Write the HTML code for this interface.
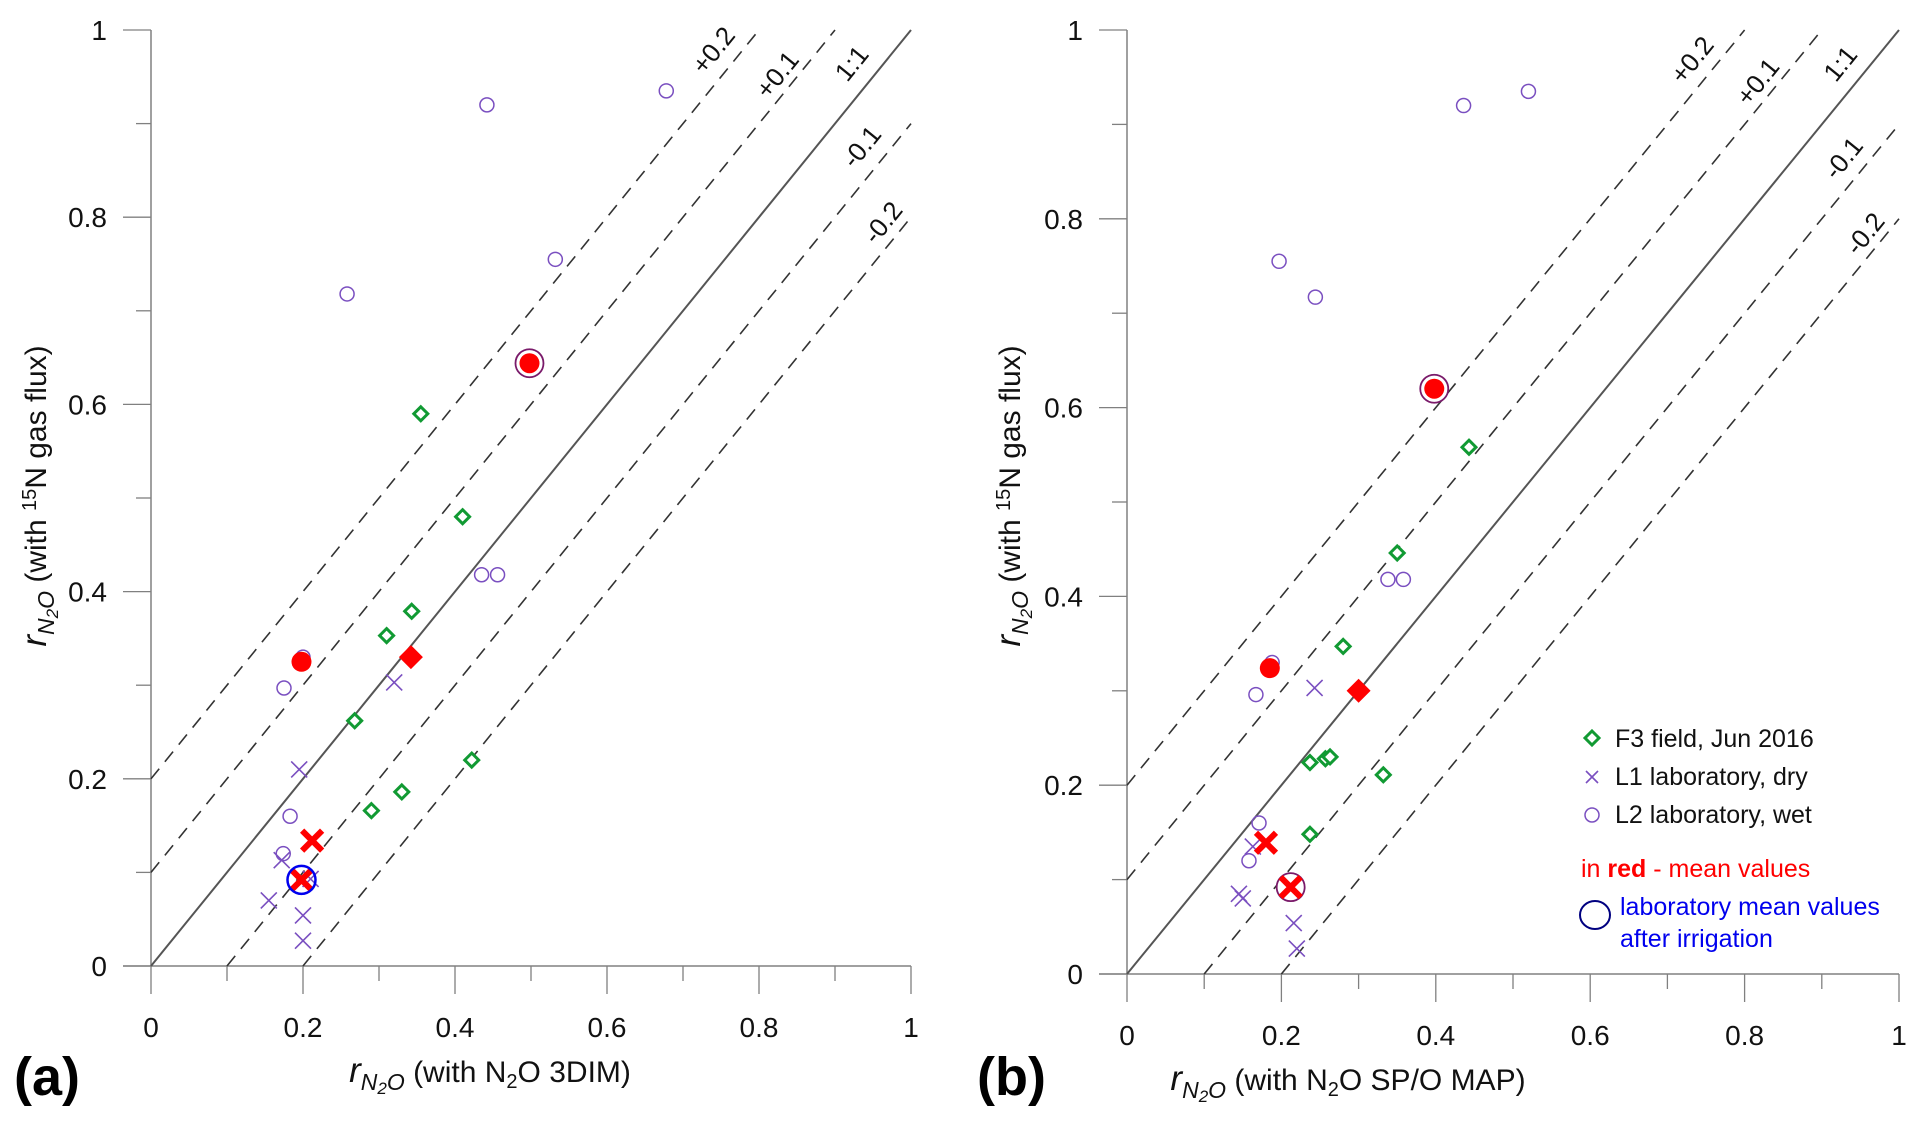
<!DOCTYPE html>
<html><head><meta charset="utf-8">
<style>
html,body{margin:0;padding:0;background:#fff;}
svg{display:block;font-family:"Liberation Sans",sans-serif;}
</style></head>
<body>
<svg id="fig" width="1922" height="1128" viewBox="0 0 1922 1128"></svg>
<script>
// Panel (a) data
const aDiamX=[0.355,0.41,0.31,0.343,0.268,0.29,0.33,0.422];
const aDiamY=[0.59,0.48,0.353,0.379,0.262,0.166,0.186,0.22];
const aCrossX=[0.195,0.32,0.172,0.155,0.2,0.2,0.21];
const aCrossY=[0.21,0.303,0.113,0.07,0.054,0.027,0.093];
const aCircX=[0.442,0.678,0.258,0.532,0.435,0.456,0.2,0.175,0.183,0.174];
const aCircY=[0.92,0.935,0.718,0.755,0.418,0.418,0.33,0.297,0.16,0.12];
const aMeanCircX=[0.198,0.498];
const aMeanCircY=[0.325,0.644];
const aMeanDiamX=[0.342];
const aMeanDiamY=[0.33];
const aMeanCrossX=[0.212,0.198];
const aMeanCrossY=[0.134,0.092];
const aRingX=[0.498];
const aRingY=[0.644];
const aBlueX=[0.198];
const aBlueY=[0.092];
// Panel (b) data
const bDiamX=[0.443,0.35,0.28,0.237,0.257,0.263,0.332,0.237];
const bDiamY=[0.558,0.446,0.347,0.224,0.228,0.23,0.211,0.148];
const bCrossX=[0.243,0.163,0.145,0.15,0.216,0.22];
const bCrossY=[0.303,0.135,0.085,0.08,0.054,0.027];
const bCircX=[0.436,0.52,0.197,0.244,0.338,0.358,0.188,0.167,0.171,0.158];
const bCircY=[0.92,0.935,0.755,0.717,0.418,0.418,0.33,0.296,0.16,0.12];
const bMeanCircX=[0.185,0.398];
const bMeanCircY=[0.324,0.62];
const bMeanDiamX=[0.3];
const bMeanDiamY=[0.3];
const bMeanCrossX=[0.18,0.212];
const bMeanCrossY=[0.139,0.092];
const bRingX=[0.398,0.212];
const bRingY=[0.62,0.092];
const tickLabels=["0","0.2","0.4","0.6","0.8","1"];
const offsets=[0.2,0.1,0,-0.1,-0.2];
const offLabels=["+0.2","+0.1","1:1","-0.1","-0.2"];

const NS="http://www.w3.org/2000/svg";
const svg=document.getElementById('fig');
function mk(tag,attrs,parent){const e=document.createElementNS(NS,tag);for(const k in attrs)e.setAttribute(k,attrs[k]);(parent||svg).appendChild(e);return e;}

function panel(P){
  const g=mk('g',{});
  
  
  const sx=v=>P.x0+(P.x1-P.x0)*v, sy=v=>P.y0+(P.y1-P.y0)*v;
  const ax='#808080';
  const yl=mk('line',{x1:sx(0),y1:sy(0),x2:sx(0),y2:sy(1),stroke:ax,'stroke-width':1.5},g);
  
  const xl=mk('line',{x1:sx(0)-28,y1:sy(0),x2:sx(1),y2:sy(0),stroke:ax,'stroke-width':1.5},g);
  
  for(let i=0;i<=10;i++){
    const v=i/10,maj=i%2==0,L=maj?28:15;
    mk('line',{x1:sx(0)-L,y1:sy(v),x2:sx(0),y2:sy(v),stroke:ax,'stroke-width':1.3},g);
    mk('line',{x1:sx(v),y1:sy(0),x2:sx(v),y2:sy(0)+L,stroke:ax,'stroke-width':1.3},g);
  }
  tickLabels.forEach((t,i)=>{
    const v=i*0.2;
    const ty=mk('text',{x:sx(0)-44,y:sy(v)+10,'text-anchor':'end','font-size':28,fill:'#111'},g);ty.textContent=t;
    
    const tx=mk('text',{x:sx(v),y:sy(0)+71,'text-anchor':'middle','font-size':28,fill:'#111'},g);tx.textContent=t;
    
  });
  offsets.forEach((c,i)=>{
    const xa=Math.max(0,-c),xb=Math.min(1,1-c);
    const l=mk('line',{x1:sx(xa),y1:sy(xa+c),x2:sx(xb),y2:sy(xb+c),stroke:c==0?'#555':'#333','stroke-width':c==0?2:1.6},g);
    if(c!=0)l.setAttribute('stroke-dasharray','13 9');
    
    const p=P.lab[i];
    const t=mk('text',{x:sx(p[0]),y:sy(p[1]),'text-anchor':'middle','dominant-baseline':'middle','font-size':26,fill:'#111',transform:`rotate(-51 ${sx(p[0])} ${sy(p[1])})`},g);
    t.textContent=offLabels[i];
    
  });
  const D=P.d;
  const purple='#7a4fc0', green='#119a33';
  D.circX.forEach((x,i)=>{const e=mk('circle',{cx:sx(x),cy:sy(D.circY[i]),r:7,fill:'none',stroke:purple,'stroke-width':1.5},g);
    });
  D.crossX.forEach((x,i)=>{const cx=sx(x),cy=sy(D.crossY[i]),s=8;
    const e=mk('path',{d:`M${cx-s} ${cy-s}L${cx+s} ${cy+s}M${cx-s} ${cy+s}L${cx+s} ${cy-s}`,stroke:purple,'stroke-width':1.6,fill:'none'},g);
    });
  D.diamX.forEach((x,i)=>{const cx=sx(x),cy=sy(D.diamY[i]),s=7;
    const e=mk('path',{d:`M${cx} ${cy-s}L${cx+s} ${cy}L${cx} ${cy+s}L${cx-s} ${cy}Z`,stroke:green,'stroke-width':3,fill:'#fff'},g);
    });
  D.ringX.forEach((x,i)=>{const e=mk('circle',{cx:sx(x),cy:sy(D.ringY[i]),r:14,fill:'#fff',stroke:'#7a1a6a','stroke-width':1.8},g);
    });
  D.mcX.forEach((x,i)=>{const e=mk('circle',{cx:sx(x),cy:sy(D.mcY[i]),r:10,fill:'#ff0000'},g);
    });
  D.mdX.forEach((x,i)=>{const cx=sx(x),cy=sy(D.mdY[i]),s=12;
    const e=mk('path',{d:`M${cx} ${cy-s}L${cx+s} ${cy}L${cx} ${cy+s}L${cx-s} ${cy}Z`,fill:'#ff0000'},g);
    });
  D.mxX.forEach((x,i)=>{const cx=sx(x),cy=sy(D.mxY[i]),s=10;
    const e=mk('path',{d:`M${cx-s} ${cy-s}L${cx+s} ${cy+s}M${cx-s} ${cy+s}L${cx+s} ${cy-s}`,stroke:'#ff0000','stroke-width':6,fill:'none'},g);
    });
  (D.blueX||[]).forEach((x,i)=>{const e=mk('circle',{cx:sx(x),cy:sy(D.blueY[i]),r:14,fill:'none',stroke:'#0000ee','stroke-width':2.5},g);
    });
  const yt=mk('text',{x:P.ytx,y:496,'text-anchor':'middle','font-size':30,fill:'#111',transform:`rotate(-90 ${P.ytx} 496)`},g);
  yt.innerHTML='<tspan font-style="italic" font-size="35">r</tspan><tspan font-style="italic" font-size="23" dy="8">N</tspan><tspan font-style="italic" font-size="17" dy="4">2</tspan><tspan font-style="italic" font-size="23" dy="-4">O</tspan><tspan dy="-8"> (with </tspan><tspan font-size="20" dy="-10">15</tspan><tspan dy="10">N gas flux)</tspan>';
  
  const xt=mk('text',{x:P.xtx,y:P.xty,'text-anchor':'middle','font-size':30,fill:'#111'},g);
  xt.innerHTML='<tspan font-style="italic" font-size="35">r</tspan><tspan font-style="italic" font-size="23" dy="8">N</tspan><tspan font-style="italic" font-size="17" dy="4">2</tspan><tspan font-style="italic" font-size="23" dy="-4">O</tspan><tspan dy="-8"> (with N</tspan><tspan font-size="20" dy="6">2</tspan><tspan dy="-6">O '+P.method+')</tspan>';
  
  const pl=mk('text',{x:P.plx,y:1095,'font-size':54,'font-weight':'bold',fill:'#000'},g);
  pl.textContent='('+P.id+')';
  
}

panel({id:'a',x0:151,x1:911,y0:966,y1:30,ytx:46,xtx:490,xty:1082,plx:14,method:'3DIM',
  lab:[[0.742,0.977],[0.826,0.951],[0.924,0.963],[0.937,0.874],[0.965,0.793]],
  d:{diamX:aDiamX,diamY:aDiamY,crossX:aCrossX,crossY:aCrossY,circX:aCircX,circY:aCircY,
     mcX:aMeanCircX,mcY:aMeanCircY,mdX:aMeanDiamX,mdY:aMeanDiamY,mxX:aMeanCrossX,mxY:aMeanCrossY,
     ringX:aRingX,ringY:aRingY,blueX:aBlueX,blueY:aBlueY}});
panel({id:'b',x0:1127,x1:1899,y0:974,y1:30,ytx:1020,xtx:1348,xty:1090,plx:977,method:'SP/O MAP',
  lab:[[0.734,0.967],[0.819,0.944],[0.926,0.963],[0.93,0.863],[0.958,0.783]],
  d:{diamX:bDiamX,diamY:bDiamY,crossX:bCrossX,crossY:bCrossY,circX:bCircX,circY:bCircY,
     mcX:bMeanCircX,mcY:bMeanCircY,mdX:bMeanDiamX,mdY:bMeanDiamY,mxX:bMeanCrossX,mxY:bMeanCrossY,
     ringX:bRingX,ringY:bRingY}});
</script>
<div style="position:absolute;left:0;top:0;width:1922px;height:1128px;pointer-events:none;">
<svg width="1922" height="1128" style="position:absolute;left:0;top:0;font-family:'Liberation Sans',sans-serif;">
  <path d="M1592 731L1599 738L1592 745L1585 738Z" fill="#fff" stroke="#119a33" stroke-width="3"/>
  <text x="1615" y="747" font-size="25" fill="#111">F3 field, Jun 2016</text>
  <path d="M1586 771L1598 783M1586 783L1598 771" stroke="#7a4fc0" stroke-width="1.6"/>
  <text x="1615" y="785" font-size="25" fill="#111">L1 laboratory, dry</text>
  <circle cx="1592" cy="815" r="7" fill="none" stroke="#7a4fc0" stroke-width="1.5"/>
  <text x="1615" y="823" font-size="25" fill="#111">L2 laboratory, wet</text>
  <text x="1581" y="877" font-size="25" fill="#ff0000">in <tspan font-weight="bold">red</tspan> - mean values</text>
  <ellipse cx="1595" cy="915" rx="15" ry="14" fill="none" stroke="#000080" stroke-width="2"/>
  <text x="1620" y="915" font-size="25" fill="#0000ee">laboratory mean values</text>
  <text x="1620" y="947" font-size="25" fill="#0000ee">after irrigation</text>
</svg></div>
</body></html>
